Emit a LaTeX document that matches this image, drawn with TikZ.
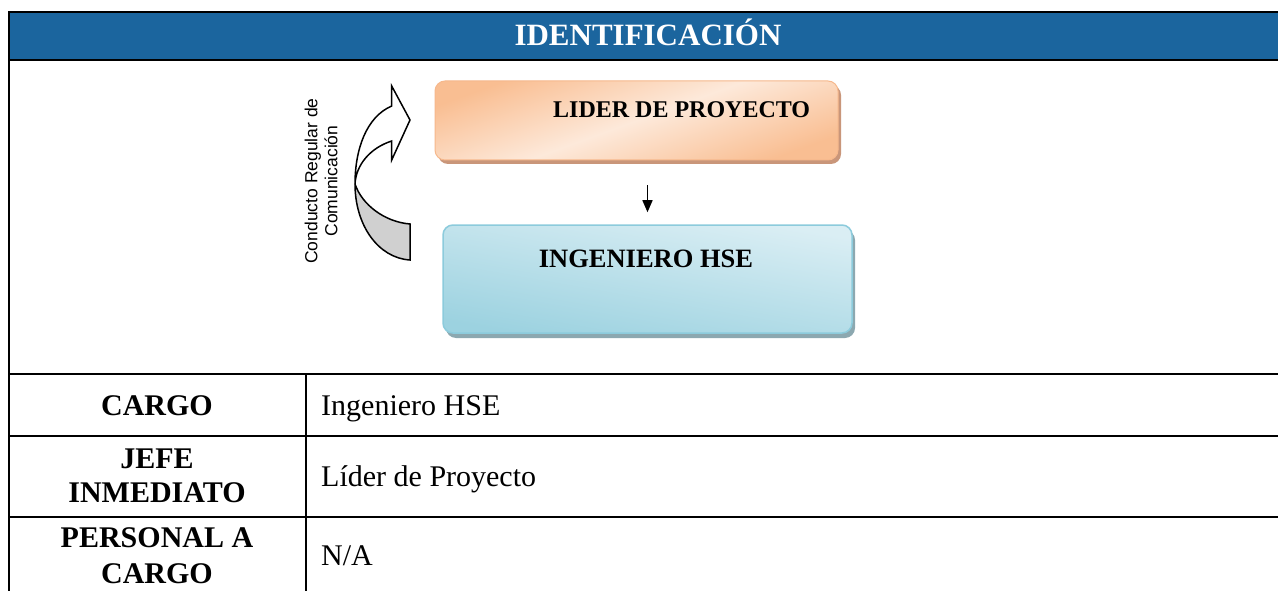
\documentclass[tikz,border=0pt]{standalone}
\usepackage{fontspec}
\setmainfont{Liberation Serif}
\newfontfamily\arialf{Liberation Sans}
\usetikzlibrary{arrows.meta,shadows}
\definecolor{hdblue}{RGB}{27,101,158}
\definecolor{orA}{RGB}{249,190,146}
\definecolor{orB}{RGB}{253,233,218}
\definecolor{orLine}{RGB}{246,184,140}
\definecolor{orShadow}{RGB}{201,150,122}
\definecolor{blA}{RGB}{218,238,244}
\definecolor{blB}{RGB}{156,210,224}
\definecolor{blLine}{RGB}{140,203,220}
\definecolor{blShadow}{RGB}{140,168,176}
\definecolor{arrgrey}{RGB}{208,208,208}
\tikzset{
  tline/.style={line width=2.5pt, line cap=rect},
  hdtext/.style={font=\bfseries\fontsize{31}{36}\selectfont, text=white, anchor=base, inner sep=0pt},
  lbl/.style={font=\bfseries\fontsize{30}{34}\selectfont, anchor=base, inner sep=0pt},
  val/.style={font=\fontsize{30}{34}\selectfont, anchor=base west, inner sep=0pt},
  liderbox/.style={rounded corners=10pt, draw=orLine, line width=1pt,
     top color=orA, bottom color=orA, middle color=orB, shading angle=20,
     drop shadow={shadow xshift=3pt, shadow yshift=-4pt, fill=orShadow, opacity=1},
     minimum width=403pt, minimum height=79pt, inner sep=0pt},
  ingbox/.style={rounded corners=10pt, draw=blLine, line width=1.5pt,
     top color=blA, bottom color=blB, shading angle=-10,
     drop shadow={shadow xshift=3pt, shadow yshift=-5pt, fill=blShadow, opacity=1},
     minimum width=409pt, minimum height=108pt, inner sep=0pt},
  boxtext/.style={font=\bfseries\fontsize{24}{28}\selectfont, anchor=base west, inner sep=0pt},
  vertarrow/.style={line width=1.5pt, -{Triangle[length=12pt,width=10pt]}},
  curvarr/.style={draw=black, line width=1.5pt, line join=miter},
}
\begin{document}
\begin{tikzpicture}[x=1pt,y=-1pt]
\useasboundingbox (0,0) rectangle (1278,591);
\fill[white] (0,0) rectangle (1278,591);
% header
\fill[hdblue] (9,12) rectangle (1290,60);
\draw[tline] (1290,12) -- (9,12) -- (9,600);
\draw[tline] (9,60) -- (1290,60);
\draw[tline] (9,374) -- (1290,374);
\draw[tline] (9,436) -- (1290,436);
\draw[tline] (9,517) -- (1290,517);
\draw[tline] (306,374) -- (306,600);
\node[hdtext] (hd) at (648,46) {IDENTIFICACIÓN};
% table texts
\node[lbl] (l1) at (157,415) {CARGO};
\node[lbl] (l2a) at (157,468) {JEFE};
\node[lbl] (l2b) at (157,502) {INMEDIATO};
\node[lbl] (l3a) at (157,547) {PERSONAL A};
\node[lbl] (l3b) at (157,583) {CARGO};
\node[val] (v1) at (321,415) {Ingeniero HSE};
\node[val] (v2) at (321,486) {Líder de Proyecto};
\node[val] (v3) at (321,565) {N/A};
% boxes
\node[liderbox] (lider) at (636.5,120.5) {};
\node[boxtext] (lidert) at (553,118) {LIDER DE PROYECTO};
\node[ingbox] (ing) at (647.5,279) {};
\node[boxtext, anchor=base, font=\bfseries\fontsize{26.5}{30}\selectfont] (ingt) at (646,267) {INGENIERO HSE};
\draw[vertarrow, shorten <=25pt, shorten >=12pt] (lider.south -| ing.north) -- (ing.north);
% curved arrow
\fill[white] (391.7,106) .. controls (366,117) and (355,150) .. (355,184)
   .. controls (356,165) and (370,148) .. (391.7,141)
   -- (391.7,160) -- (410,120) -- (391.7,86) -- cycle;
\fill[arrgrey] (355,184) .. controls (355,225) and (378,258) .. (410,260)
   -- (410,224) .. controls (385,222) and (362,205) .. (355,184) -- cycle;
\draw[curvarr] (391.7,106) .. controls (366,117) and (355,150) .. (355,184)
   .. controls (355,225) and (378,258) .. (410,260) -- (410,224)
   .. controls (385,222) and (362,205) .. (355,184)
   .. controls (356,165) and (370,148) .. (391.7,141)
   -- (391.7,160) -- (410,120) -- (391.7,86) -- cycle;
% rotated label
\node[font=\arialf\fontsize{17.5}{20}\selectfont, rotate=90, align=center, inner sep=0pt] (cond) at (321,181) {Conducto Regular de\\Comunicación};
\end{tikzpicture}
\end{document}
